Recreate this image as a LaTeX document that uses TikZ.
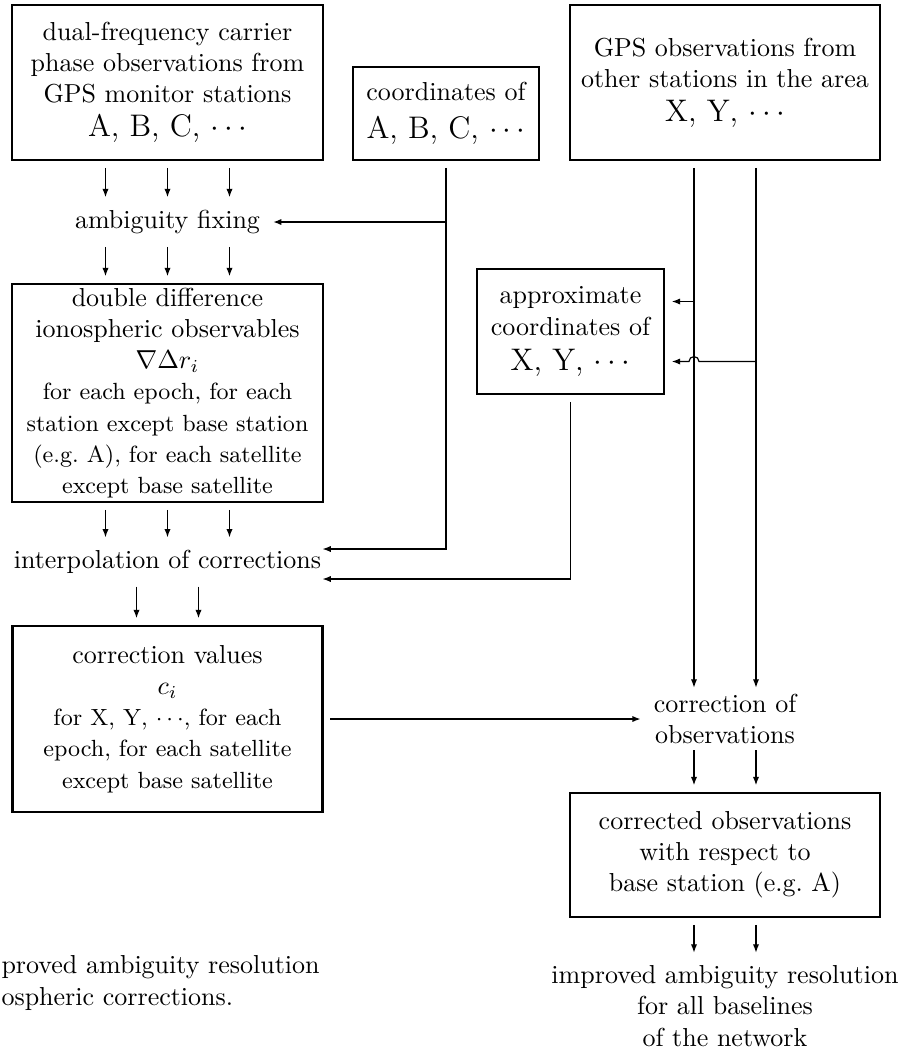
\documentclass[tikz,border=0pt]{standalone}
\usetikzlibrary{
    arrows.meta,% for the Latex tips
    calc% wg. ($ ... $)
}
\newcommand{\pxl}{0.3846pt}% one pixel of the old figure
\tikzset{
    >={Latex[length=3.2pt,width=2.4pt]},
    box/.style={draw, line width=0.8pt, align=center, inner sep=0pt, outer sep=3pt},
    lbl/.style={align=center, inner sep=2pt, outer sep=3pt},
    link/.style={->, line width=0.45pt},
    boldlink/.style={->, line width=0.8pt}
}

\begin{document}
\begin{tikzpicture}[x=\pxl, y=-\pxl]
    \useasboundingbox (0,0) rectangle (903,1052);

    %%% inputs in the top row
    \node[box, minimum width=311*\pxl, minimum height=155*\pxl] (obs) at (167.5,82.5)
        {dual-frequency carrier\\ phase observations from\\ GPS monitor stations\\[1pt]
         {\large A, B, C, $\cdots$}};
    \node[box, minimum width=186*\pxl, minimum height=93*\pxl] (crd) at (446,113.5)
        {coordinates of\\[2.5pt] {\large A, B, C, $\cdots$}};
    \node[box, minimum width=310*\pxl, minimum height=155*\pxl] (oth) at (725,82.5)
        {GPS observations from\\ other stations in the area\\[1pt] {\large X, Y, $\cdots$}};

    %%% left column
    \node[lbl] (fix) at (167.5,222) {ambiguity fixing};
    \node[box, minimum width=311*\pxl, minimum height=218*\pxl] (dd) at (167.5,393)
        {double difference\\ ionospheric observables\\ $\nabla\Delta r_i$\\
         \small for each epoch, for each\\ \small station except base station\\
         \small (e.g.\ A), for each satellite\\ \small except base satellite};
    \node[lbl, inner xsep=0pt, outer xsep=0.5pt] (ipl) at (167.5,562) {interpolation of corrections};
    \node[box, minimum width=310*\pxl, minimum height=186*\pxl] (cv) at (167.5,719)
        {correction values\\ $c_i$\\ \small for X, Y, $\cdots$, for each\\
         \small epoch, for each satellite\\ \small except base satellite};

    %%% right column
    \node[box, minimum width=187*\pxl, minimum height=125*\pxl] (apx) at (570.5,331.5)
        {approximate\\ coordinates of\\[1.5pt] {\large X, Y, $\cdots$}};
    \node[lbl, inner xsep=4.5pt, outer sep=0.5pt] (cob) at (725,719) {correction of\\ observations};
    \node[box, minimum width=310*\pxl, minimum height=124*\pxl] (cor) at (725,855)
        {corrected observations\\ with respect to\\ base station (e.g.\ A)};
    \node[lbl] (imp) at (725,1006) {improved ambiguity resolution\\ for all baselines\\ of the network};

    %%% caption lines at the lower left
    \node[anchor=base west, inner sep=0pt] (cap1) at (1,973) {proved ambiguity resolution};
    \node[anchor=base west, inner sep=0pt] (cap2) at (1,1005) {ospheric corrections.};

    %%% parallel arrows
    \foreach \dx in {-62,0,62} {
        \draw[link] ($(obs.south)+(\dx,0)$) -- ($(fix.north)+(\dx,0)$);
        \draw[link] ($(fix.south)+(\dx,0)$) -- ($(dd.north)+(\dx,0)$);
        \draw[link] ($(dd.south)+(\dx,0)$) -- ($(ipl.north)+(\dx,0)$);
    }
    \foreach \dx in {-31,31} {
        \draw[link] ($(ipl.south)+(\dx,0)$) -- ($(cv.north)+(\dx,0)$);
        \draw[link] ($(oth.south)+(\dx,0)$) -- ($(cob.north)+(\dx,0)$);
        \draw[link] ($(cob.south)+(\dx,0)$) -- ($(cor.north)+(\dx,0)$);
        \draw[link] ($(cor.south)+(\dx,0)$) -- ($(imp.north)+(\dx,0)$);
    }

    %%% side feeds
    \coordinate (lft) at ($(oth.south)+(-31,0)$);
    \coordinate (rgt) at ($(oth.south)+(31,0)$);
    \coordinate (apxtop) at ($(apx.east)+(0,-30)$);
    \coordinate (apxlow) at ($(apx.east)+(0,30)$);
    \draw[link] (apxtop -| lft) -- (apxtop);
    \draw[link] (apxlow -| rgt) -- ($(apxlow -| lft)+(5,0)$)
        arc[start angle=0, end angle=-180, radius=5] -- (apxlow);

    \draw[link] (crd.south) |- ($(ipl.east)+(0,-13)$);
    \draw[boldlink] (crd.south |- fix.east) -- (fix.east);
    \draw[link] (apx.south) |- ($(ipl.east)+(0,17)$);
    \draw[boldlink] (cv.east) -- (cv.east -| cob.west);
\end{tikzpicture}
\end{document}
